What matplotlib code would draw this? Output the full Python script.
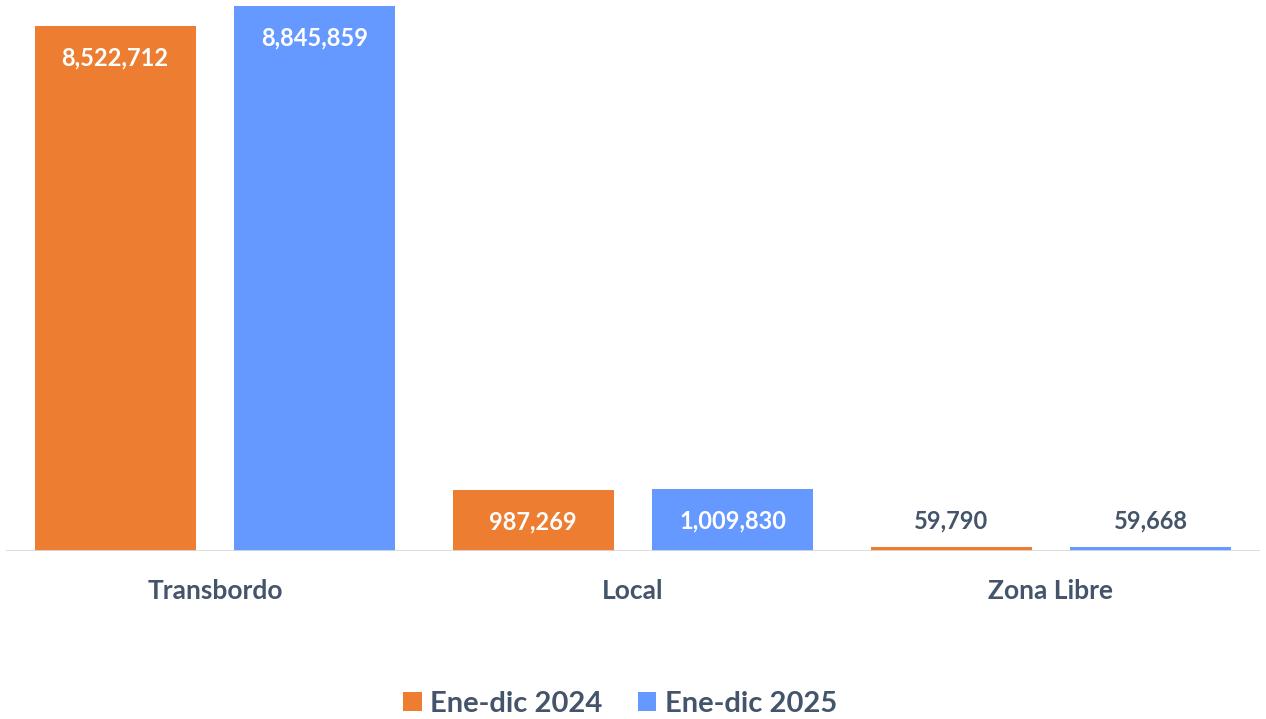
import matplotlib
matplotlib.use("Agg")
import matplotlib.pyplot as plt
import numpy as np
from matplotlib.patches import Patch

categories = ["Transbordo", "Local", "Zona Libre"]
series_names = ["Ene-dic 2024", "Ene-dic 2025"]
values_2024 = [8522712, 987269, 59790]
values_2025 = [8845859, 1009830, 59668]

colors = ["#ED7D31", "#6699FF"]
text_dark = "#44546A"
font = ["Lato", "DejaVu Sans"]

fig = plt.figure(figsize=(12.66, 7.19), dpi=100)
ax = fig.add_axes([6 / 1266, 1 - 551 / 719, 1254 / 1266, 545 / 719])

x = np.arange(len(categories))
width = 0.385
offset = 0.239
series = [values_2024, values_2025]
for i, (vals, col) in enumerate(zip(series, colors)):
    pos = x + (offset if i else -offset)
    bars = ax.bar(pos, vals, width=width, color=col, zorder=2)
    for b, v in zip(bars, vals):
        label = f"{v:,}"
        cx = b.get_x() + b.get_width() / 2
        if v > 500000:
            ax.annotate(label, (cx, v), xytext=(0, -32), textcoords="offset pixels",
                        ha="center", va="center", color="white", fontsize=17,
                        fontweight="bold", family=font)
        else:
            ax.annotate(label, (cx, v), xytext=(0, 26), textcoords="offset pixels",
                        ha="center", va="center", color=text_dark, fontsize=17,
                        fontweight="bold", family=font)

ax.set_xlim(-0.5, len(categories) - 0.5)
ax.set_ylim(0, max(values_2025))
ax.axhline(0, color="#D9D9D9", linewidth=2, zorder=3)
for s in ax.spines.values():
    s.set_visible(False)
ax.set_yticks([])
ax.set_xticks(x)
ax.set_xticklabels(categories, fontsize=19, fontweight="bold", color=text_dark, family=font)
ax.tick_params(axis="x", length=0, pad=20)

handles = [Patch(facecolor=c, edgecolor="none") for c in colors]
leg = fig.legend(handles, series_names, loc="center", bbox_to_anchor=(620 / 1266, 1 - 704 / 719),
                 ncol=2, frameon=False, handlelength=0.65, handleheight=0.65, handletextpad=0.3,
                 columnspacing=1.2, prop={"family": font, "weight": "bold", "size": 21})
for t in leg.get_texts():
    t.set_color(text_dark)

fig.savefig("out.png", dpi=100)
